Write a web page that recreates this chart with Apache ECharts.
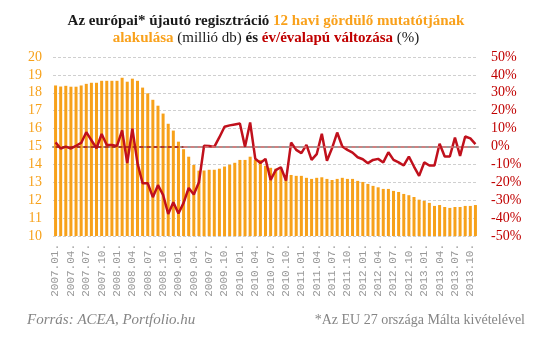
<!DOCTYPE html>
<html>
<head>
<meta charset="utf-8">
<script src="https://cdn.jsdelivr.net/npm/echarts@6/dist/echarts.min.js"></script>
<style>
  html, body { margin: 0; padding: 0; background: #fff; }
  #chart { width: 539px; height: 346px; }
</style>
</head>
<body>
<div id="chart"></div>
<script>
// Months shown on the category axis (monthly data, Jan 2007 – Nov 2013)
const months = [
  '2007.01.','2007.02.','2007.03.','2007.04.','2007.05.','2007.06.','2007.07.','2007.08.','2007.09.','2007.10.','2007.11.','2007.12.',
  '2008.01.','2008.02.','2008.03.','2008.04.','2008.05.','2008.06.','2008.07.','2008.08.','2008.09.','2008.10.','2008.11.','2008.12.',
  '2009.01.','2009.02.','2009.03.','2009.04.','2009.05.','2009.06.','2009.07.','2009.08.','2009.09.','2009.10.','2009.11.','2009.12.',
  '2010.01.','2010.02.','2010.03.','2010.04.','2010.05.','2010.06.','2010.07.','2010.08.','2010.09.','2010.10.','2010.11.','2010.12.',
  '2011.01.','2011.02.','2011.03.','2011.04.','2011.05.','2011.06.','2011.07.','2011.08.','2011.09.','2011.10.','2011.11.','2011.12.',
  '2012.01.','2012.02.','2012.03.','2012.04.','2012.05.','2012.06.','2012.07.','2012.08.','2012.09.','2012.10.','2012.11.','2012.12.',
  '2013.01.','2013.02.','2013.03.','2013.04.','2013.05.','2013.06.','2013.07.','2013.08.','2013.09.','2013.10.','2013.11.'
];

// 12-month rolling new car registrations (million units)
const rolling12m = [
  18.41,18.35,18.39,18.34,18.34,18.41,18.50,18.56,18.56,18.67,18.67,18.67,
  18.67,18.84,18.62,18.79,18.67,18.29,17.97,17.61,17.28,16.84,16.27,15.89,
  15.27,14.85,14.43,13.97,13.65,13.66,13.70,13.70,13.76,13.88,13.98,14.09,
  14.25,14.25,14.43,14.25,14.25,13.92,13.81,13.76,13.69,13.41,13.41,13.36,
  13.36,13.25,13.19,13.25,13.28,13.19,13.13,13.19,13.25,13.19,13.19,13.08,
  13.02,12.91,12.80,12.72,12.63,12.63,12.52,12.46,12.35,12.28,12.18,12.03,
  11.96,11.85,11.68,11.73,11.62,11.57,11.62,11.62,11.68,11.68,11.73
];

// Year-on-year change of monthly registrations (%)
const yoyChange = [
  2.3,-1.1,-0.1,-1.1,0.4,2.0,8.0,3.5,-1.0,7.0,0.8,0.8,
  0.3,9.0,-9.3,10.0,-9.3,-20.5,-20.5,-28.3,-21.6,-27.0,-37.7,-31.2,
  -37.4,-31.5,-23.2,-26.8,-20.0,0.4,0.3,-0.2,5.2,11.0,11.8,12.3,
  12.8,-0.2,13.4,-6.8,-9.2,-6.9,-18.7,-13.2,-11.6,-19.0,2.2,-1.9,
  -3.7,0.9,-7.5,-4.3,7.1,-8.0,-0.9,7.8,0.0,-1.9,-3.4,-6.0,
  -7.1,-9.3,-7.5,-6.9,-8.9,-3.2,-7.5,-8.9,-10.6,-5.6,-11.2,-16.4,
  -8.9,-10.6,-10.6,1.5,-5.6,-5.6,5.0,-5.2,5.6,4.5,1.3
];

// Axis ranges
const leftTicks = { min: 10, max: 20, step: 1 };
const rightTicks = { min: -50, max: 50, step: 10 };

const ORANGE = '#f7a11a';
const RED = '#c0101c';
const SERIF = '"Liberation Serif", "DejaVu Serif", serif';

const chart = echarts.init(document.getElementById('chart'), null, { renderer: 'canvas' });

chart.setOption({
  animation: false,
  backgroundColor: '#fff',
  title: {
    left: 261,
    top: 8,
    textAlign: 'center',
    text: '{b|Az európai* újautó regisztráció }{o|12 havi gördülő mutatótjának}\n{o|alakulása}{n| (millió db) }{b|és }{r|év/évalapú változása}{n| (%)}',
    textStyle: {
      lineHeight: 17,
      rich: {
        b: { fontFamily: SERIF, fontWeight: 'bold', fontSize: 15, color: '#1a1a1a', lineHeight: 17 },
        o: { fontFamily: SERIF, fontWeight: 'bold', fontSize: 15, color: '#f9a11b', lineHeight: 17 },
        r: { fontFamily: SERIF, fontWeight: 'bold', fontSize: 15, color: '#c00000', lineHeight: 17 },
        n: { fontFamily: SERIF, fontWeight: 'normal', fontSize: 15, color: '#1a1a1a', lineHeight: 17 }
      }
    }
  },
  grid: { left: 53, right: 61, top: 57, bottom: 110 },
  xAxis: {
    type: 'category',
    data: months,
    boundaryGap: true,
    axisLine: { lineStyle: { color: '#9a9a9a', width: 2 } },
    axisTick: { show: false },
    axisLabel: {
      interval: 2,
      rotate: 90,
      margin: 8,
      color: '#999999',
      fontFamily: '"Liberation Mono", monospace',
      fontSize: 11
    }
  },
  yAxis: [
    {
      type: 'value',
      min: leftTicks.min,
      max: leftTicks.max,
      interval: leftTicks.step,
      axisLine: { show: false },
      axisTick: { show: false },
      axisLabel: { color: ORANGE, fontFamily: SERIF, fontSize: 14, margin: 11 },
      splitLine: { lineStyle: { color: '#cfcfcf', type: [3, 2], width: 1 } }
    },
    {
      type: 'value',
      min: rightTicks.min,
      max: rightTicks.max,
      interval: rightTicks.step,
      axisLine: { show: false },
      axisTick: { show: false },
      splitLine: { show: false },
      axisLabel: { color: '#c00000', fontFamily: SERIF, fontSize: 14, margin: 13, formatter: '{value}%' }
    }
  ],
  series: [
    {
      type: 'bar',
      data: rolling12m,
      yAxisIndex: 0,
      barWidth: 3,
      itemStyle: { color: ORANGE },
      z: 2
    },
    {
      type: 'line',
      data: yoyChange,
      yAxisIndex: 1,
      symbol: 'none',
      lineStyle: { color: RED, width: 2.5 },
      z: 4,
      markLine: {
        silent: true,
        symbol: 'none',
        label: { show: false },
        data: [
          [
            { coord: [0, 0], lineStyle: { color: '#a81818', type: [4, 3], width: 1.5 } },
            { coord: [25, 0] }
          ],
          [
            { coord: [25, 0], lineStyle: { color: '#e27a7a', type: [4, 3], width: 1.5 } },
            { coord: [82, 0] }
          ]
        ]
      }
    }
  ],
  graphic: [
    {
      type: 'text',
      left: 27,
      top: 313,
      style: {
        text: 'Forrás: ACEA, Portfolio.hu',
        fontFamily: SERIF,
        fontStyle: 'italic',
        fontSize: 15,
        fill: '#858585'
      }
    },
    {
      type: 'text',
      right: 14,
      top: 313,
      style: {
        text: '*Az EU 27 országa Málta kivételével',
        fontFamily: SERIF,
        fontSize: 14,
        fill: '#858585'
      }
    }
  ]
});
</script>
</body>
</html>
